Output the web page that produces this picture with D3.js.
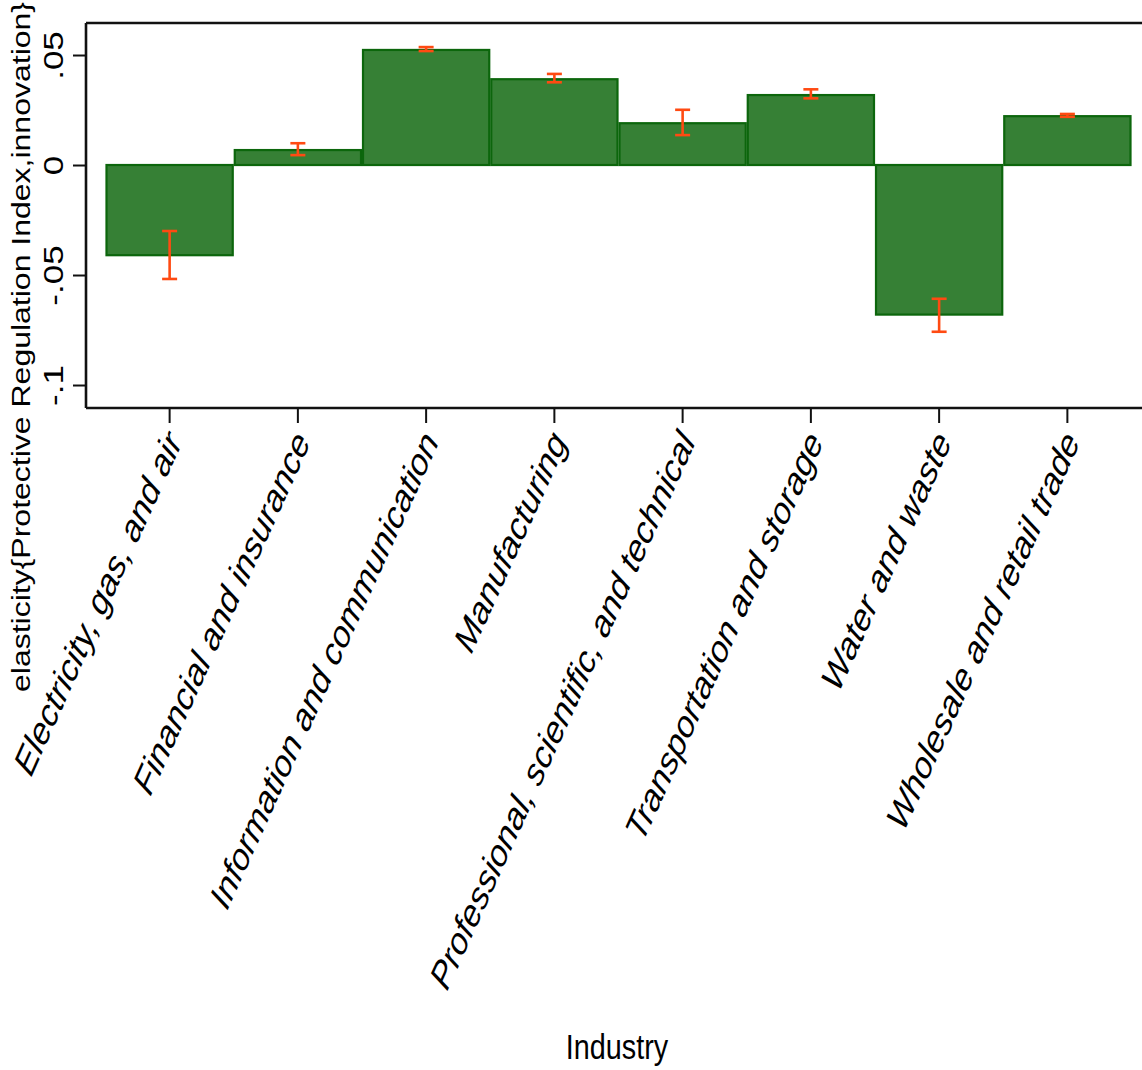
<!DOCTYPE html>
<html>
<head>
<meta charset="utf-8">
<script src="https://cdn.jsdelivr.net/npm/d3@7"></script>
<style>
  html, body { margin: 0; padding: 0; background: #fff; }
  svg { display: block; font-family: "Liberation Sans", Arial, sans-serif; }
</style>
</head>
<body>
<svg id="chart" width="1142" height="1070"></svg>
<script>
// Industry-level elasticities with confidence intervals
const industries = [
  "Electricity, gas, and air",
  "Financial and insurance",
  "Information and communication",
  "Manufacturing",
  "Professional, scientific, and technical",
  "Transportation and storage",
  "Water and waste",
  "Wholesale and retail trade"
];
const elasticity = [-0.0410, 0.0068, 0.0523, 0.0390, 0.0190, 0.0318, -0.0680, 0.0222];
const ciLower    = [-0.0518, 0.0045, 0.0518, 0.0376, 0.0136, 0.0303, -0.0758, 0.0219];
const ciUpper    = [-0.0300, 0.0099, 0.0536, 0.0414, 0.0251, 0.0344, -0.0608, 0.0232];
const yTicks      = [-0.1, -0.05, 0, 0.05];
const yTickLabels = ["-.1", "-.05", "0", ".05"];

const rows = industries.map((name, i) => ({
  name, value: elasticity[i], lo: ciLower[i], hi: ciUpper[i]
}));

const svg = d3.select("#chart");
const squeeze = "scale(0.8,1)";   // glyphs are drawn condensed horizontally

const frame = { left: 86, right: 1142, top: 23, bottom: 408 };

const x = d3.scaleBand()
  .domain(industries)
  .range([105.5, 1131.5])
  .padding(0);

const y = d3.scaleLinear()
  .domain([-0.11045, 0.06455])
  .range([frame.bottom, frame.top]);

// bars
svg.append("g")
  .selectAll("rect")
  .data(rows)
  .join("rect")
  .attr("x", d => x(d.name) + 1)
  .attr("width", x.bandwidth() - 2)
  .attr("y", d => y(Math.max(0, d.value)))
  .attr("height", d => Math.abs(y(d.value) - y(0)))
  .attr("fill", "#368035")
  .attr("stroke", "#0c660c")
  .attr("stroke-width", 2.2);

// confidence intervals
const ci = svg.append("g")
  .attr("stroke", "#ff4a12")
  .attr("stroke-width", 2.6)
  .attr("fill", "none");
const capHalf = 7.5;
rows.forEach(d => {
  const cx = x(d.name) + x.bandwidth() / 2;
  ci.append("line").attr("x1", cx).attr("x2", cx).attr("y1", y(d.lo)).attr("y2", y(d.hi));
  [d.lo, d.hi].forEach(v => {
    ci.append("line").attr("x1", cx - capHalf).attr("x2", cx + capHalf)
      .attr("y1", y(v)).attr("y2", y(v));
  });
});

// frame: top edge and axes
svg.append("line")
  .attr("x1", frame.left).attr("x2", frame.right)
  .attr("y1", frame.top).attr("y2", frame.top)
  .attr("stroke", "#111").attr("stroke-width", 2.6);

// y axis
const yAxis = svg.append("g")
  .attr("transform", `translate(${frame.left},0)`)
  .call(d3.axisLeft(y).tickValues(yTicks)
    .tickFormat((d, i) => yTickLabels[i]).tickSize(13).tickPadding(0));
yAxis.select(".domain")
  .attr("d", `M0,${frame.top}V${frame.bottom}`)
  .attr("stroke", "#111").attr("stroke-width", 2.6);
yAxis.selectAll(".tick line").attr("stroke", "#111").attr("stroke-width", 2);
yAxis.selectAll(".tick text")
  .attr("x", null).attr("dy", null)
  .attr("text-anchor", "middle")
  .attr("transform", `translate(-23,0) ${squeeze} rotate(-90)`)
  .attr("font-size", 35)
  .attr("fill", "#000");

// x axis
const xAxis = svg.append("g")
  .attr("transform", `translate(0,${frame.bottom})`)
  .call(d3.axisBottom(x).tickSize(15).tickPadding(0));
xAxis.select(".domain")
  .attr("d", `M${frame.left},0H${frame.right}`)
  .attr("stroke", "#111").attr("stroke-width", 2.6);
xAxis.selectAll(".tick line").attr("stroke", "#111").attr("stroke-width", 2);
xAxis.selectAll(".tick text")
  .attr("y", null).attr("dy", "0.35em")
  .attr("text-anchor", "end")
  .attr("transform", `translate(4,27) ${squeeze} rotate(-60.5)`)
  .attr("font-size", 38.7)
  .attr("font-style", "italic")
  .attr("fill", "#000");

// axis titles
svg.append("text")
  .attr("text-anchor", "middle")
  .attr("transform", `translate(30,347) ${squeeze} rotate(-90)`)
  .attr("font-size", 32)
  .attr("fill", "#000")
  .text("elasticity{Protective Regulation Index,innovation}");

svg.append("text")
  .attr("text-anchor", "middle")
  .attr("transform", `translate(617,1059) ${squeeze}`)
  .attr("font-size", 36)
  .attr("fill", "#000")
  .text("Industry");
</script>
</body>
</html>
